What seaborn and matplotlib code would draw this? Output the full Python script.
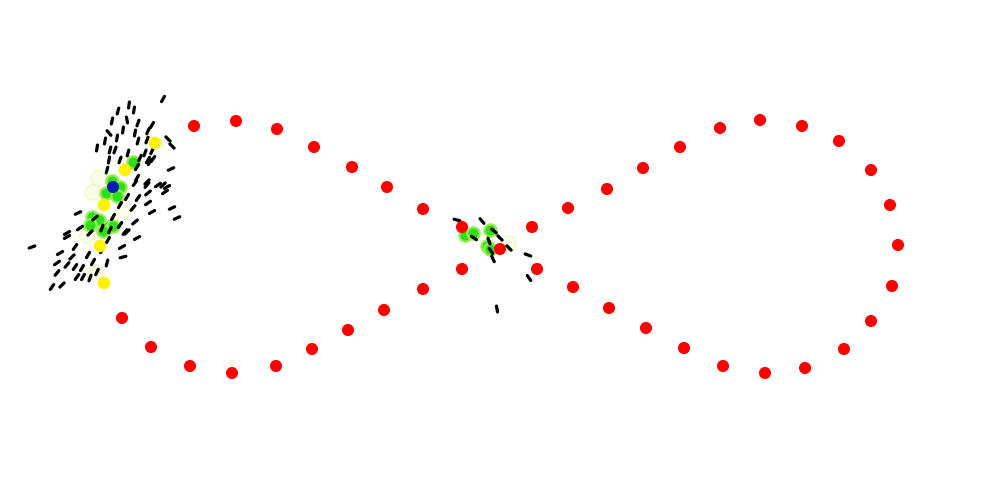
import numpy as np
import pandas as pd
import matplotlib
matplotlib.use("Agg")
import matplotlib.pyplot as plt
import seaborn as sns
from matplotlib.collections import LineCollection

# ---- data (pixel-like coordinates, y downward) ----
red_x = [194, 236, 277, 314, 352, 387, 423, 462, 500, 537, 573,
         609, 646, 684, 723, 765, 805, 844, 871, 892, 898, 890, 871, 839,
         802, 760, 720, 680, 643, 607, 568, 532,
         462, 423, 384, 348, 312, 276, 232, 190, 151, 122]
red_y = [126, 121, 129, 147, 167, 187, 209, 227, 249, 269, 287,
         308, 328, 348, 366, 373, 368, 349, 321, 286, 245, 205, 170, 141,
         126, 120, 128, 147, 168, 189, 208, 227,
         269, 289, 310, 330, 349, 366, 373, 366, 347, 318]

yellow_x = [104, 100, 104, 125, 155]
yellow_y = [283, 246, 205, 170, 143]

blue_x = [113]
blue_y = [187]

green_x = [112, 120, 106, 117, 133, 92, 99, 108, 113, 103, 90,
           465, 473, 490, 487, 490]
green_y = [181, 187, 193, 196, 162, 217, 220, 227, 226, 231, 225,
           235, 233, 230, 246, 249]

halo_x = [98, 92, 87, 95, 122, 508]
halo_y = [178, 192, 235, 272, 212, 243]

dash_x = [163, 129, 134, 118, 112, 127, 138, 152, 123, 109, 135, 148, 117, 105,
          97, 138, 147, 168, 172, 110, 115, 145, 152, 109, 140, 148, 153, 120,
          128, 171, 137, 150, 107, 137, 147, 158, 167,
          135, 147, 163, 148, 165, 127, 138, 120, 133, 148, 152, 172, 177, 78,
          95, 113, 120, 135, 125, 137, 67, 90, 102, 110,
          32, 67, 80, 60, 72, 57, 67, 75, 82, 57, 77, 83, 52, 62, 90, 93, 107,
          97, 88, 75, 122, 123, 108, 127, 102,
          457, 482, 474, 494, 489, 500, 509, 491, 493, 528, 529, 497]
dash_y = [99, 105, 110, 111, 121, 120, 123, 125, 130, 133, 133, 131, 138, 141,
          148, 141, 140, 139, 146, 150, 150, 153, 151, 160, 158, 160, 159, 160,
          153, 169, 167, 162, 170, 178, 182, 185, 187,
          183, 185, 185, 193, 192, 197, 198, 205, 208, 203, 212, 208, 218, 213,
          218, 217, 225, 222, 232, 238, 233, 233, 228, 230,
          247, 237, 228, 253, 257, 263, 265, 267, 268, 273, 277, 277, 287, 285,
          278, 262, 263, 272, 255, 247, 247, 257, 240, 232, 250,
          220, 221, 238, 231, 241, 238, 248, 251, 259, 255, 278, 309]
dash_angle = [60, 82, 80, 75, 78, -78, 70, 60, 82, -50, 80, 65, 80, 80,
              80, 75, 70, -45, -45, 75, 70, 70, 65, 80, 65, 60, 55, 70,
              75, 25, 60, 55, 75, 60, 45, 35, 30,
              55, 50, 45, 40, 35, 60, 55, 60, 50, 35, 30, 25, 25, 25,
              40, 60, 55, 40, 50, 30, 30, 45, 70, 65,
              20, 30, 35, 30, 45, 35, 50, 55, 60, 50, 55, 60, 55, 45, 70, 60,
              75, 65, 60, 55, 30, 15, 60, 45, 60,
              -15, -50, -35, -40, -70, -45, -45, -55, -65, -20, -55, -80]

# ---- figure ----
sns.set_theme(style="white")
fig = plt.figure(figsize=(10, 5), dpi=100)
ax = fig.add_axes([0, 0, 1, 1])
ax.set_xlim(0, 1000)
ax.set_ylim(500, 0)
ax.axis("off")

halos = pd.DataFrame({"x": halo_x, "y": halo_y})
sns.scatterplot(data=halos, x="x", y="y", ax=ax, s=130, color="#f6fbd8",
                edgecolor="#eef6b8", linewidth=1.0, alpha=0.6, zorder=1)

greens = pd.DataFrame({"x": green_x, "y": green_y})
sns.scatterplot(data=greens, x="x", y="y", ax=ax, s=80, color="#2ee01a",
                edgecolor="#9cec5a", linewidth=1.6, zorder=2)

# dashes: short black segments centred on each point
L = 6.0
dx = np.array(dash_x, float)
dy = np.array(dash_y, float)
da = np.deg2rad(np.array(dash_angle, float))
ox = L / 2 * np.cos(da)
oy = -L / 2 * np.sin(da)
segs = np.stack([np.stack([dx - ox, dy - oy], axis=1),
                 np.stack([dx + ox, dy + oy], axis=1)], axis=1)
lc = LineCollection(segs, colors="black", linewidths=2.3, capstyle="round",
                    zorder=3)
ax.add_collection(lc)

reds = pd.DataFrame({"x": red_x, "y": red_y})
sns.scatterplot(data=reds, x="x", y="y", ax=ax, s=76, color="#ff0000",
                edgecolor="none", zorder=4)

yel = pd.DataFrame({"x": yellow_x, "y": yellow_y})
sns.scatterplot(data=yel, x="x", y="y", ax=ax, s=82, color="#fff200",
                edgecolor="none", zorder=4)

blu = pd.DataFrame({"x": blue_x, "y": blue_y})
sns.scatterplot(data=blu, x="x", y="y", ax=ax, s=76, color="#0b1cb4",
                edgecolor="none", zorder=5)

fig.savefig("out.png", dpi=100, facecolor="white")
